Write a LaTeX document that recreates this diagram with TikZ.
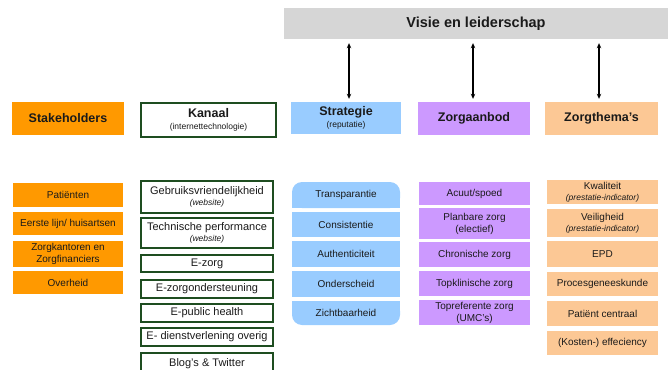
\documentclass[tikz,border=0pt]{standalone}
\usepackage{fontspec}
\setmainfont{Liberation Sans}
\usetikzlibrary{arrows.meta}
\definecolor{orangeS}{HTML}{FF9900}
\definecolor{blueS}{HTML}{99CCFF}
\definecolor{purpleS}{HTML}{CC99FF}
\definecolor{peachS}{HTML}{FCC895}
\definecolor{grayS}{HTML}{D6D6D6}
\definecolor{greenS}{HTML}{1E4D20}
\definecolor{txtS}{HTML}{1A1A1A}
\newcommand\bx[7]{\node[#6, minimum width={#4-#2}, minimum height={#5-#3}] (#1) at ({(#2+#4)/2},{(#3+#5)/2}) {#7};}
\newcommand\subtxt[1]{{\mdseries\fontsize{8.5}{12}\selectfont #1}}
\newcommand\subit[1]{{\mdseries\itshape\fontsize{8.5}{12}\selectfont #1}}
\tikzset{
  box/.style={inner sep=0pt, align=center, text=txtS, font=\fontsize{10}{12}\selectfont},
  hdr/.style={box, font=\bfseries\fontsize{12.5}{13}\selectfont},
  stk/.style={box, fill=orangeS},
  kan/.style={box, draw=greenS, line width=2pt, fill=white, font=\fontsize{11}{12}\selectfont},
  stb/.style={box, fill=blueS},
  zab/.style={box, fill=purpleS},
  zth/.style={box, fill=peachS},
  arr/.style={{Stealth[length=5pt,width=4.5pt]}-{Stealth[length=5pt,width=4.5pt]}, line width=1.4pt, shorten >=4pt, shorten <=3pt}
}
\begin{document}
\begin{tikzpicture}[x=1pt,y=-1pt]
\useasboundingbox (0,0) rectangle (668,369);
\clip (0,0) rectangle (668,369);
% top bar
\bx{visie}{284}{8}{668}{39}{hdr, fill=grayS, font=\bfseries\fontsize{14.5}{16}\selectfont}{Visie en leiderschap}
% headers
\bx{stake}{12}{102}{124}{135}{hdr, fill=orangeS}{Stakeholders}
\bx{kanaal}{141}{103}{276}{137}{hdr, draw=greenS, line width=2pt, fill=white}{Kanaal\\[-1pt]\subtxt{(internettechnologie)}}
\bx{strat}{291}{102}{401}{134}{hdr, fill=blueS}{Strategie\\[-1.5pt]\subtxt{(reputatie)}}
\bx{zorg}{418}{102}{530}{135}{hdr, fill=purpleS}{Zorgaanbod}
\bx{thema}{545}{102}{658}{135}{hdr, fill=peachS}{Zorgthema’s}
% arrows
\draw[arr] ([xshift=3pt]strat.north) -- ([xshift=3pt]strat.north |- visie.south);
\draw[arr] ([xshift=-1pt]zorg.north) -- ([xshift=-1pt]zorg.north |- visie.south);
\draw[arr] ([xshift=-2.5pt]thema.north) -- ([xshift=-2.5pt]thema.north |- visie.south);
% stakeholders
\bx{s1}{13}{183}{123}{207}{stk}{Patiënten}
\bx{s2}{13}{212}{123}{235}{stk}{Eerste lijn/ huisartsen}
\bx{s3}{13}{241}{123}{267}{stk}{Zorgkantoren en\\Zorgfinanciers}
\bx{s4}{13}{271}{123}{294}{stk}{Overheid}
% kanaal
\bx{k1}{141}{181}{273}{213}{kan}{Gebruiksvriendelijkheid\\[-1pt]\subit{(website)}}
\bx{k2}{141}{218}{273}{248}{kan}{Technische performance\\[-1pt]\subit{(website)}}
\bx{k3}{141}{255}{273}{272}{kan}{E-zorg}
\bx{k4}{141}{280}{273}{298}{kan}{E-zorgondersteuning}
\bx{k5}{141}{304}{273}{322}{kan}{E-public health}
\bx{k6}{141}{328}{273}{346}{kan}{E- dienstverlening overig}
\bx{k7}{141}{353}{273}{380}{kan}{\raisebox{7pt}{Blog’s \& Twitter}}
% strategie stack
\fill[blueS] (292,195) rectangle (400,208);
\bx{t1}{292}{182}{400}{208}{stb, rounded corners=10pt}{Transparantie}
\bx{t2}{292}{212}{400}{237}{stb}{Consistentie}
\bx{t3}{292}{241}{400}{267}{stb}{Authenticiteit}
\bx{t4}{292}{271}{400}{297}{stb}{Onderscheid}
\fill[blueS] (292,301) rectangle (400,313);
\bx{t5}{292}{301}{400}{325}{stb, rounded corners=10pt}{Zichtbaarheid}
% zorgaanbod
\bx{z1}{419}{182}{530}{205}{zab}{Acuut/spoed}
\bx{z2}{419}{208}{530}{239}{zab}{Planbare zorg\\(electief)}
\bx{z3}{419}{242}{530}{267}{zab}{Chronische zorg}
\bx{z4}{419}{271}{530}{296}{zab}{Topklinische zorg}
\bx{z5}{419}{300}{530}{325}{zab}{Topreferente zorg\\(UMC’s)}
% zorgthema's
\bx{h1}{547}{180}{658}{204}{zth}{Kwaliteit\\[-1pt]\subit{(prestatie-indicator)}}
\bx{h2}{547}{209}{658}{237}{zth}{Veiligheid\\[-1pt]\subit{(prestatie-indicator)}}
\bx{h3}{547}{241}{658}{267}{zth}{EPD}
\bx{h4}{547}{272}{658}{296}{zth}{Procesgeneeskunde}
\bx{h5}{547}{301}{658}{326}{zth}{Patiënt centraal}
\bx{h6}{547}{331}{658}{355}{zth}{(Kosten-) effeciency}
\end{tikzpicture}
\end{document}
